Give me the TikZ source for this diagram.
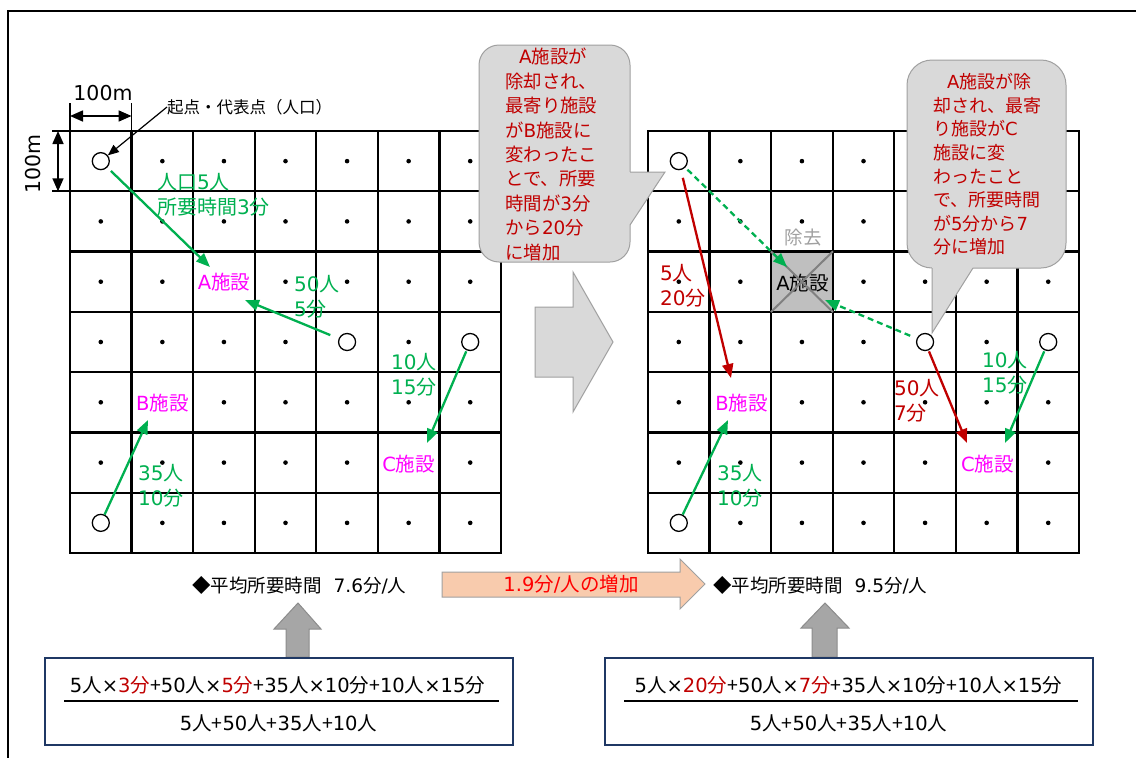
\documentclass[tikz,border=0pt]{standalone}
\usepackage{fontspec}
\newfontfamily\jp{Noto Sans CJK JP}
\newfontfamily\latf{DejaVu Sans}
\usetikzlibrary{arrows.meta}
\newcommand\lt[1]{{\latf #1}}
\definecolor{fgreen}{HTML}{00B050}
\definecolor{dred}{HTML}{C00000}
\definecolor{fmag}{HTML}{FF00FF}
\definecolor{bred}{HTML}{FF0000}
\definecolor{cfillc}{HTML}{D9D9D9}
\definecolor{cborderc}{HTML}{A0A0A0}
\definecolor{peach}{HTML}{F8CBAD}
\definecolor{upgray}{HTML}{A6A6A6}
\definecolor{upborder}{HTML}{8C8C8C}
\definecolor{navy}{HTML}{1F3864}
\definecolor{aboxc}{HTML}{BFBFBF}
\definecolor{xlinec}{HTML}{808080}
\definecolor{gonec}{HTML}{A0A0A0}
\newcommand\myfs[2]{\fontsize{#1}{#2}\selectfont}
\tikzset{
  frameline/.style={line width=2pt, black},
  gridline/.style={line width=2.3pt, black, line cap=rect},
  ptc/.style={circle, draw=black, line width=1.3pt, fill=white, minimum size=17pt, inner sep=0pt},
  fac/.style={text=fmag, font=\jp\myfs{19.5}{24}, inner sep=1pt, fill=white},
  facx/.style={text=black, font=\jp\myfs{19.5}{24}, inner sep=0pt},
  aboxs/.style={fill=aboxc, draw=none, minimum width=61.6pt, minimum height=60.3pt, inner sep=0pt},
  xline/.style={draw=xlinec, line width=2pt},
  gone/.style={text=gonec, font=\jp\myfs{18.5}{22}, inner sep=0pt},
  lbl/.style={font=\jp\myfs{20}{25}, align=left, inner sep=0pt, anchor=west},
  lblg/.style={lbl, text=fgreen},
  lblr/.style={lbl, text=dred},
  garrow/.style={draw=fgreen, line width=2.3pt, -{Triangle[length=14pt,width=11pt]}},
  gdash/.style={garrow, dash pattern=on 6pt off 4pt},
  rarrow/.style={draw=dred, line width=2.3pt, -{Triangle[length=14pt,width=11pt]}},
  dimarrow/.style={line width=1.6pt, {Triangle[length=13pt,width=11pt]}-{Triangle[length=13pt,width=11pt]}},
  extline/.style={line width=1.6pt},
  dimtext/.style={font=\jp\myfs{20.5}{26}, inner sep=0pt},
  origintext/.style={font=\jp\myfs{16.5}{20}, inner sep=0pt, anchor=west},
  ptrarrow/.style={line width=1.2pt, -{Triangle[length=11pt,width=9pt]}},
  cbox/.style={fill=cfillc, draw=cborderc, line width=1pt, inner sep=0pt},
  ctext/.style={text=dred, align=left, inner sep=0pt, anchor=west},
  bigarrow/.style={fill=cfillc, draw=cborderc, line width=1pt},
  peacharrow/.style={fill=peach, draw=cborderc, line width=1pt},
  uparrow/.style={fill=upgray, draw=upborder, line width=1pt},
  peachtext/.style={text=bred, font=\jp\myfs{19.5}{24}, inner sep=0pt},
  avgtext/.style={font=\jp\myfs{18.5}{22}, inner sep=0pt, anchor=west},
  fbox/.style={draw=navy, line width=1.6pt, fill=white, inner sep=0pt},
  ftext/.style={font=\jp\myfs{19.5}{24}, inner sep=0pt},
  fbar/.style={line width=2pt},
}
\begin{document}
\begin{tikzpicture}[x=1pt,y=-1pt,font=\jp]
\useasboundingbox (0,0) rectangle (1136,758);
\draw[frameline] (8,758) -- (8,11) -- (1136,11);

% dots
\foreach \i in {0,...,6}{\foreach \j in {0,...,6}{
  \pgfmathsetmacro\cx{100.79+\i*61.571}
  \pgfmathsetmacro\cy{161.14+\j*60.286}
  \fill (\cx,\cy) circle[radius=2.3pt];
  \fill (\cx+578,\cy) circle[radius=2.3pt];
}}

% removed facility box
\node[aboxs] (RAbox) at (801.93,281.71) {};

% grids
\foreach \k in {0,...,7}{
  \pgfmathsetmacro\xa{70+\k*61.571}
  \pgfmathsetmacro\xb{648+\k*61.571}
  \pgfmathsetmacro\yy{131+\k*60.286}
  \draw[gridline] (\xa,131) -- (\xa,553);
  \draw[gridline] (\xb,131) -- (\xb,553);
  \draw[gridline] (70,\yy) -- (501,\yy);
  \draw[gridline] (648,\yy) -- (1079,\yy);
}

% dimensions
\draw[extline] (70,103) -- (70,131);
\draw[extline] (131.57,103) -- (131.57,131);
\coordinate (dh1) at (70,116);
\coordinate (dh2) at (131.57,116);
\draw[dimarrow] (dh1) -- (dh2);
\node[dimtext] (dimh) at (103,93) {\lt{100m}};
\draw[extline] (52,131) -- (70,131);
\draw[extline] (52,191.29) -- (90,191.29);
\coordinate (dv1) at (58,131);
\coordinate (dv2) at (58,191.29);
\draw[dimarrow] (dv1) -- (dv2);
\node[dimtext, rotate=90] (dimv) at (33,164) {\lt{100m}};

% origin points
\node[ptc] (L00) at (100.79,161.14) {};
\node[ptc] (L43) at (347.07,342) {};
\node[ptc] (L63) at (470.21,342) {};
\node[ptc] (L06) at (100.79,522.86) {};
\node[ptc] (R00) at (678.79,161.14) {};
\node[ptc] (R43) at (925.07,342) {};
\node[ptc] (R63) at (1048.21,342) {};
\node[ptc] (R06) at (678.79,522.86) {};

\node[origintext] (orig) at (167,107) {起点・代表点（人口）};
\draw[ptrarrow] (orig.west) -- (L00);

% facilities
\node[fac] (LA) at (223.93,282.5) {\lt{A}施設};
\node[fac] (LB) at (162.36,403) {\lt{B}施設};
\node[fac] (LC) at (408.64,464) {\lt{C}施設};
\node[fac] (RB) at (741.5,403.5) {\lt{B}施設};
\node[fac] (RC) at (987.5,464.5) {\lt{C}施設};
\node[facx] (RA) at (802.5,283) {\lt{A}施設};
\draw[xline] (RAbox.north west) -- (RAbox.south east);
\draw[xline] (RAbox.north east) -- (RAbox.south west);
\node[gone] (RAg) at (803,238) {除去};

% labels
\node[lblg] (l1) at (157,195) {人口\lt{5}人\\所要時間\lt{3}分};
\node[lblg] (l2) at (294,297) {\lt{50}人\\\lt{5}分};
\node[lblg] (l3) at (391,375) {\lt{10}人\\\lt{15}分};
\node[lblg] (l4) at (138,485.5) {\lt{35}人\\\lt{10}分};
\node[lblr] (r1) at (660,285.5) {\lt{5}人\\\lt{20}分};
\node[lblr] (r2) at (894,400.5) {\lt{50}人\\\lt{7}分};
\node[lblg] (r3) at (982,372.5) {\lt{10}人\\\lt{15}分};
\node[lblg] (r4) at (717,485.5) {\lt{35}人\\\lt{10}分};

% arrows left
\coordinate (t1) at (210,267);
\coordinate (t2) at (245,300);
\coordinate (t3) at (427,443);
\coordinate (t4) at (148,420);
\draw[garrow, shorten <=5pt] (L00) -- (t1);
\draw[garrow, shorten <=9pt] (L43) -- (t2);
\draw[garrow, shorten <=1pt] (L63) -- (t3);
\draw[garrow] (L06) -- (t4);
% arrows right
\coordinate (u1) at (731,378);
\coordinate (u2) at (787,267);
\coordinate (u3) at (825,300);
\coordinate (u4) at (967,443);
\coordinate (u5) at (1005,443);
\coordinate (u6) at (728,420);
\draw[rarrow, shorten <=8pt] (R00) -- (u1);
\draw[gdash, shorten <=3pt] (R00) -- (u2);
\draw[gdash, shorten <=7pt] (R43) -- (u3);
\draw[rarrow, shorten <=1pt] (R43) -- (u4);
\draw[garrow, shorten <=1pt] (R63) -- (u5);
\draw[garrow] (R06) -- (u6);

% callout 1
\node[cbox, rounded corners=20pt, minimum width=151pt, minimum height=217pt] (cb1) at (554.5,153.5) {};
\fill[cfillc] (626,172) -- (665,172) -- (630,225) -- (626,225) -- cycle;
\draw[draw=cborderc, line width=1pt] (630,172) -- (665,172) -- (630,225);
\node[ctext, font=\jp\myfs{18.4}{24.4}] (ct1) at (505,154.5) {\hspace*{14pt}\lt{A}施設が\\除却され、\\最寄り施設\\が\lt{B}施設に\\変わったこ\\とで、所要\\時間が\lt{3}分\\から\lt{20}分\\に増加};

% callout 2
\node[cbox, rounded corners=25pt, minimum width=159pt, minimum height=208pt] (cb2) at (986.5,164) {};
\fill[cfillc] (932,264) -- (973,264) -- (973,268) -- (932,333) -- cycle;
\draw[draw=cborderc, line width=1pt] (932,268) -- (932,333) -- (973,268);
\node[ctext, font=\jp\myfs{18}{23.6}] (ct2) at (933,164.5) {\hspace*{14pt}\lt{A}施設が除\\却され、最寄\\り施設が\lt{C}\\施設に変\\わったこと\\で、所要時間\\が\lt{5}分から\lt{7}\\分に増加};

% middle big arrow
\path[bigarrow] (535,307) -- (573,307) -- (573,272) -- (613,342) -- (573,412) -- (573,377) -- (535,377) -- cycle;

% averages
\node[avgtext] (avgL) at (192,585) {◆平均所要時間\hspace{12pt}\lt{7.6}分\lt{/}人};
\node[avgtext] (avgR) at (713,585) {◆平均所要時間\hspace{12pt}\lt{9.5}分\lt{/}人};
\path[peacharrow] (442,572) -- (680,572) -- (680,559) -- (705,584) -- (680,609) -- (680,597) -- (442,597) -- cycle;
\node[peachtext] (inc) at (571,584) {\lt{1.9}分\lt{/}人の増加};

% up arrows
\path[uparrow] (286,657) -- (286,629) -- (274,629) -- (298,603) -- (321,629) -- (309,629) -- (309,657) -- cycle;
\path[uparrow] (812,657) -- (812,628) -- (801,628) -- (825,603) -- (849,628) -- (837,628) -- (837,657) -- cycle;

% formula boxes
\node[fbox, minimum width=468pt, minimum height=87pt] (fL) at (279,701.5) {};
\node[ftext] (nL) at (277.5,685) {\lt{5}人\lt{×}\textcolor{dred}{\lt{3}分}+\lt{50}人\lt{×}\textcolor{dred}{\lt{5}分}+\lt{35}人\lt{×10}分+\lt{10}人\lt{×15}分};
\draw[fbar] (64,701) -- (499,701);
\node[ftext] (dL) at (278.5,723) {\lt{5}人+\lt{50}人+\lt{35}人+\lt{10}人};
\node[fbox, minimum width=488pt, minimum height=87pt] (fR) at (849,701.5) {};
\node[ftext] (nR) at (848.5,685) {\lt{5}人\lt{×}\textcolor{dred}{\lt{20}分}+\lt{50}人\lt{×}\textcolor{dred}{\lt{7}分}+\lt{35}人\lt{×10}分+\lt{10}人\lt{×15}分};
\draw[fbar] (624,701) -- (1078,701);
\node[ftext] (dR) at (848.5,723) {\lt{5}人+\lt{50}人+\lt{35}人+\lt{10}人};
\end{tikzpicture}
\end{document}
